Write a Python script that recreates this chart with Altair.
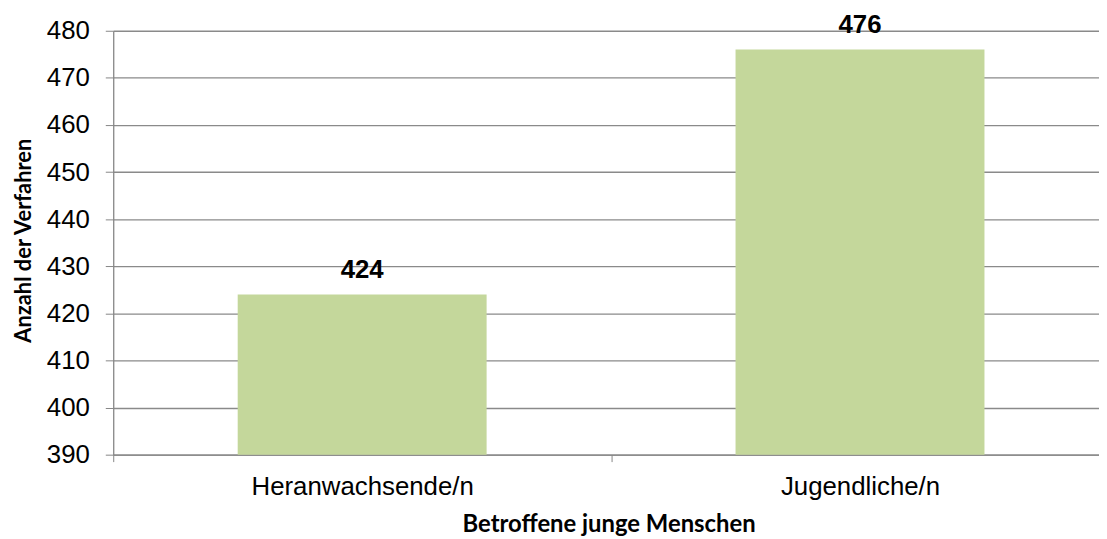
import altair as alt
import pandas as pd

categories = ["Heranwachsende/n", "Jugendliche/n"]
values = [424, 476]
y_domain = [390, 480]
y_ticks = [390, 400, 410, 420, 430, 440, 450, 460, 470, 480]

df = pd.DataFrame({"cat": categories, "val": values, "base": [y_domain[0]] * len(values)})

x_scale = alt.Scale(paddingInner=0, paddingOuter=0, range=[0, 1003])

x_enc = alt.X(
    "cat:N",
    sort=categories,
    scale=x_scale,
    axis=alt.Axis(
        title="Betroffene junge Menschen",
        tickBand="extent",
        labelAngle=0,
        labelLimit=0,
        labelFont="Liberation Sans",
        labelFontSize=26,
        labelColor="#000000",
        labelPadding=12,
        labelBaseline="top",
        tickSize=7,
        tickColor="#868686",
        domainColor="#868686",
        domainWidth=1.3,
        grid=False,
        titleFont="Lato",
        titleFontWeight="bold",
        titleFontSize=24,
        titleColor="#000000",
        titleBaseline="alphabetic",
        titleX=499,
        titleAlign="center",
        titleY=77,
    ),
)

y_enc = alt.Y(
    "val:Q",
    scale=alt.Scale(domain=y_domain, zero=False, nice=False),
    axis=alt.Axis(
        title="Anzahl der Verfahren",
        values=y_ticks,
        labelFont="Liberation Sans",
        labelFontSize=26,
        labelColor="#000000",
        labelPadding=16,
        tickSize=8,
        tickColor="#868686",
        domainColor="#868686",
        domainWidth=1.3,
        gridColor="#8a8a8a",
        gridWidth=1.3,
        titleFont="Lato",
        titleFontWeight="bold",
        titleFontSize=22,
        titleColor="#000000",
        titleX=-83,
        titleY=211,
        titleAngle=-90,
        titleAlign="center",
        titleBaseline="alphabetic",
    ),
)

bars = alt.Chart(df).mark_bar(
    color="#C4D79B", width=alt.RelativeBandSize(0.5)
).encode(x=x_enc, y=y_enc, y2="base:Q")

labels = alt.Chart(df).mark_text(
    font="Liberation Sans", fontSize=26, fontWeight="bold", color="#000000",
    baseline="alphabetic", dy=-17,
).encode(x=alt.X("cat:N", sort=categories, scale=x_scale), y="val:Q", text="val:Q")

chart = (
    alt.layer(bars, labels)
    .properties(
        width=993,
        height=427,
        autosize=alt.AutoSizeParams(type="none"),
        padding={"left": 106, "top": 21, "right": 0, "bottom": 80},
    )
    .configure_view(stroke=None)
    .configure_axis(gridCap="butt")
)

chart.save("out.html", embed_options={"renderer": "svg", "actions": False})
